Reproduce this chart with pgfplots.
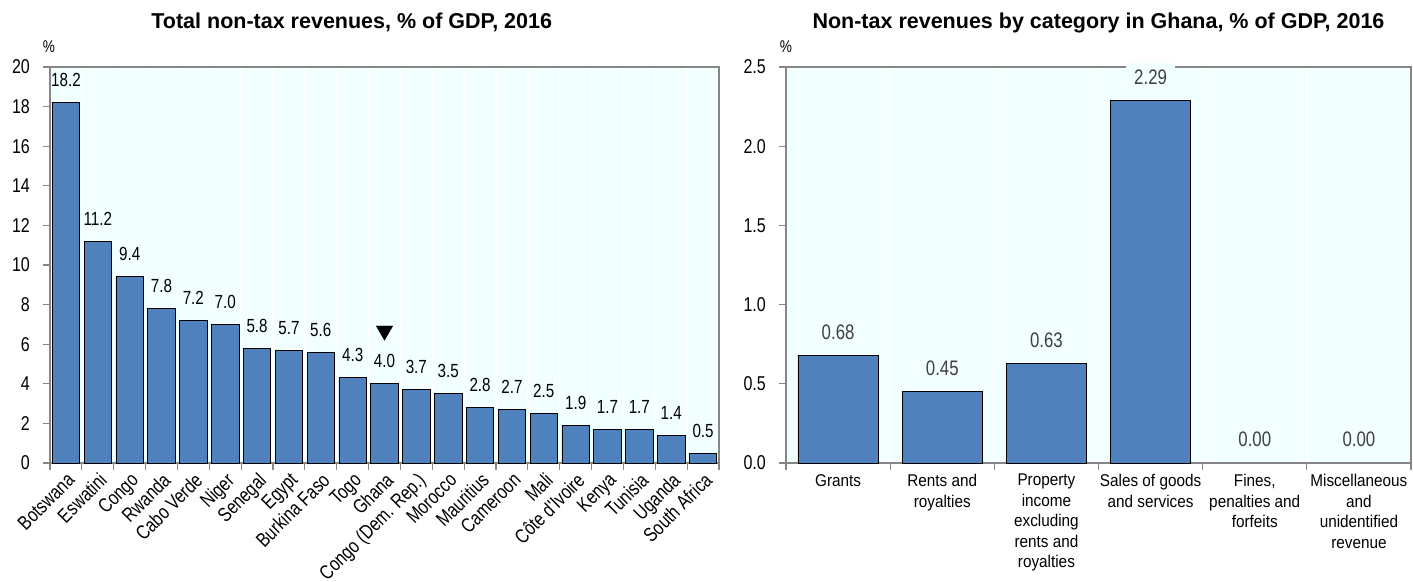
\documentclass[border=0pt]{standalone}
\usepackage{fontspec}
\setmainfont{Liberation Sans}
\newfontfamily\nar{Liberation Sans}[FakeStretch=0.8]
\newfontfamily\narb{Liberation Sans}[FakeStretch=0.9]
\usepackage{pgfplots}
\pgfplotsset{compat=1.18}

\definecolor{barblue}{RGB}{79,129,189}
\definecolor{bgcyan}{RGB}{242,255,255}
\definecolor{framegray}{RGB}{134,134,134}
\definecolor{labgray}{RGB}{64,64,64}

\pgfplotsset{oecd/.style={
    scale only axis, height=396bp, ymin=0,
    anchor=south west, clip=false,
    axis background/.style={fill=bgcyan},
    axis line style={framegray, line width=1.4bp},
    tick align=outside, xtick pos=bottom, ytick pos=left,
    major tick length=7bp, minor tick length=7bp,
    tick style={framegray, line width=1.2bp},
    major x tick style=transparent,
    xminorgrids=true, minor x grid style={white, line width=1.5bp},
    /pgf/number format/assume math mode=true,
    yticklabel style={font=\nar\fontsize{20bp}{24bp}\selectfont, inner sep=2bp, xshift=-11bp},
    title style={font=\bfseries\fontsize{21.5bp}{25bp}\selectfont, anchor=base, yshift=33bp},
  }}

\begin{document}
\begin{tikzpicture}
\path[use as bounding box] (0,0) rectangle (1413bp,582bp);

% left panel: total non-tax revenues by country
\begin{axis}[oecd,
    at={(50bp,119bp)}, width=669bp,
    xmin=-0.5, xmax=20.5, ymax=20,
    ytick={0,2,...,20},
    xtick={0,...,20},
    minor xtick={-0.5,0.5,...,20.5},
    xticklabels={Botswana,Eswatini,Congo,Rwanda,Cabo Verde,Niger,Senegal,Egypt,Burkina Faso,Togo,Ghana,Congo (Dem. Rep.),Morocco,Mauritius,Cameroon,Mali,Côte d'Ivoire,Kenya,Tunisia,Uganda,South Africa},
    xticklabel style={rotate=45, anchor=north east, inner sep=1bp, font=\nar\fontsize{20bp}{23bp}\selectfont},
    title={Total non-tax revenues, \% of GDP, 2016},
    title style={at={(0.451,1)}},
  ]
  \addplot[ybar, bar width=0.86, fill=barblue, draw=black, line width=0.8bp,
    nodes near coords={\pgfmathprintnumber[fixed,fixed zerofill,precision=1]{\pgfplotspointmeta}},
    nodes near coords style={font=\nar\fontsize{19bp}{22bp}\selectfont, black, anchor=base, yshift=16bp}]
  coordinates {
    (0,18.2)(1,11.2)(2,9.4)(3,7.8)(4,7.2)(5,7.0)(6,5.8)(7,5.7)(8,5.6)(9,4.3)
    (10,4.0)(11,3.7)(12,3.5)(13,2.8)(14,2.7)(15,2.5)(16,1.9)(17,1.7)(18,1.7)(19,1.4)(20,0.5)
  };
  % marker over Ghana
  \addplot[only marks, mark=triangle*, mark size=9.5bp,
    mark options={rotate=180, fill=black, draw=black}]
  coordinates {(10,6.68)};
  \node[anchor=base, font=\nar\fontsize{17bp}{20bp}\selectfont] at (rel axis cs:0,1) [xshift=-1bp, yshift=14bp] {\%};
\end{axis}

% right panel: Ghana by category
\begin{axis}[oecd,
    at={(786bp,119bp)}, width=625bp,
    xmin=-0.5, xmax=5.5, ymax=2.5,
    ytick={0,0.5,1,1.5,2,2.5},
    yticklabel style={/pgf/number format/.cd, fixed, fixed zerofill, precision=1},
    xtick={0,...,5},
    minor xtick={-0.5,0.5,...,5.5},
    xticklabels={Grants,{Rents and\\royalties},{Property\\income\\excluding\\rents and\\royalties},{Sales of goods\\and services},{Fines,\\penalties and\\forfeits},{Miscellaneous\\and\\unidentified\\revenue}},
    xticklabel style={align=center, anchor=north, inner sep=2bp, yshift=-2bp, font=\narb\fontsize{17bp}{20.5bp}\selectfont},
    title={Non-tax revenues by category in Ghana, \% of GDP, 2016},
    title style={at={(0.5,1)}},
  ]
  \pgfplotsset{ghlab/.style={
    nodes near coords={\pgfmathprintnumber[fixed,fixed zerofill,precision=2]{\pgfplotspointmeta}},
    nodes near coords style={font=\nar\fontsize{21bp}{24bp}\selectfont, text=labgray, fill=bgcyan, inner xsep=8bp, inner ysep=7bp, anchor=base, yshift=16bp}}}
  \addplot[ybar, bar width=0.77, fill=barblue, draw=black, line width=0.8bp, ghlab]
  coordinates {(0,0.68)(1,0.45)(2,0.63)(3,2.29)};
  % zero categories: label only, no visible bar
  \addplot[ybar, bar width=0.77, draw=none, fill=none, ghlab]
  coordinates {(4,0.00)(5,0.00)};
  \node[anchor=base, font=\nar\fontsize{17bp}{20bp}\selectfont] at (rel axis cs:0,1) [yshift=14bp] {\%};
\end{axis}
\end{tikzpicture}
\end{document}
